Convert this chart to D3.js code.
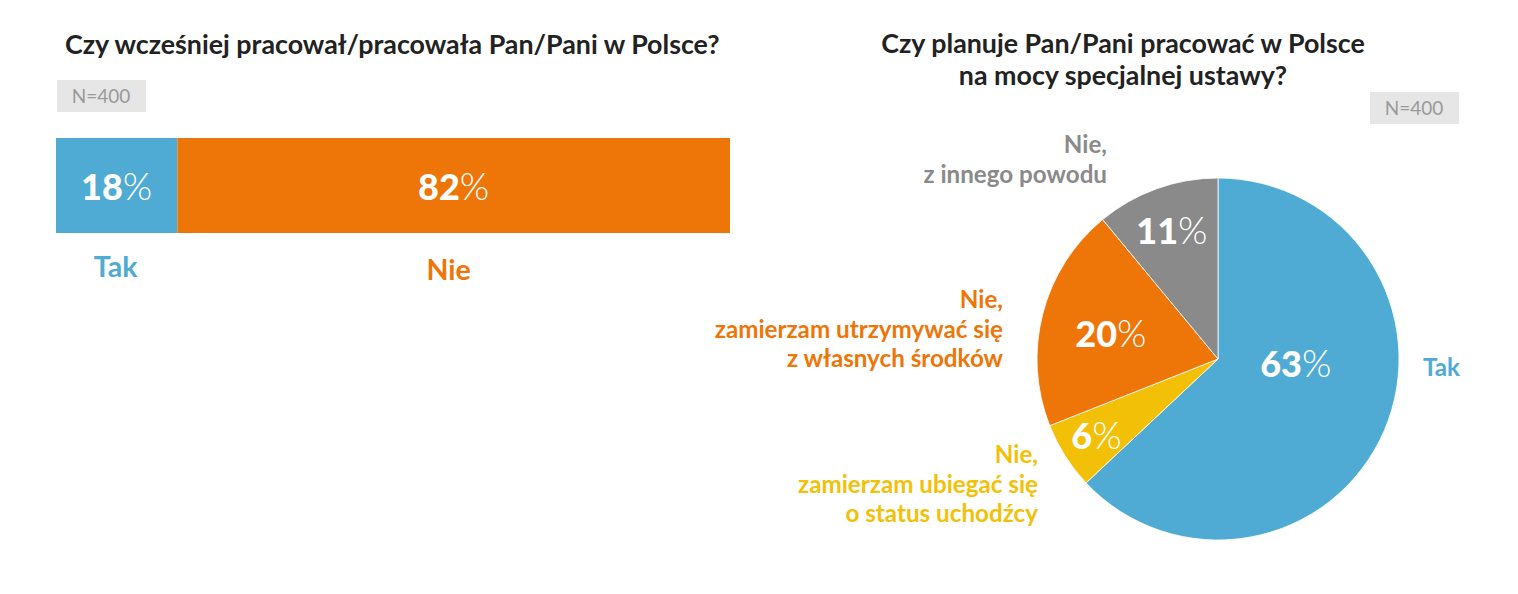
<!DOCTYPE html>
<html>
<head>
<meta charset="utf-8">
<script src="https://cdn.jsdelivr.net/npm/d3@7"></script>
<style>
  body { margin: 0; background: #fff; }
  text { font-family: Lato, "Open Sans", sans-serif; }
</style>
</head>
<body>
<div id="chart"></div>
<script>
// Data
const barTitle = "Czy wcześniej pracował/pracowała Pan/Pani w Polsce?";
const barCategories = ["Tak", "Nie"];
const barValues = [18, 82];

const pieTitle = ["Czy planuje Pan/Pani pracować w Polsce", "na mocy specjalnej ustawy?"];
const pieCategories = ["Tak", "Nie, zamierzam ubiegać się o status uchodźcy", "Nie, zamierzam utrzymywać się z własnych środków", "Nie, z innego powodu"];
const pieLabelLines = [
  ["Tak"],
  ["Nie,", "zamierzam ubiegać się", "o status uchodźcy"],
  ["Nie,", "zamierzam utrzymywać się", "z własnych środków"],
  ["Nie,", "z innego powodu"]
];
const pieValues = [63, 6, 20, 11];
const sampleLabel = "N=400";

const colors = { blue: "#4FABD3", orange: "#EE7507", grey: "#8A8A8A", yellow: "#F3C008" };
const barColors = [colors.blue, colors.orange];
const pieColors = [colors.blue, colors.yellow, colors.orange, colors.grey];

const W = 1518, H = 594;
const svg = d3.select("#chart").append("svg")
    .attr("width", W)
    .attr("height", H);

// percentage label: bold digits + light % sign
function pctLabel(sel, v, size) {
  sel.append("tspan").attr("font-weight", 900).text(v);
  sel.append("tspan").attr("font-weight", 300).attr("font-size", size * 1.05).text("%");
  sel.attr("font-size", size).attr("fill", "#fff").attr("text-anchor", "middle");
}

function sampleBox(g, x, y) {
  g.append("rect").attr("x", x).attr("y", y).attr("width", 89).attr("height", 32).attr("fill", "#E6E6E6");
  g.append("text").attr("x", x + 44).attr("y", y + 23).attr("text-anchor", "middle")
    .attr("font-size", 19).attr("fill", "#9A9A9A").text(sampleLabel);
}

// ---------- Left: stacked bar ----------
const left = svg.append("g");
left.append("text")
  .attr("x", 65).attr("y", 54)
  .attr("font-size", 26.8).attr("font-weight", 700).attr("fill", "#222")
  .text(barTitle);
sampleBox(left, 57, 80);

const x = d3.scaleLinear().domain([0, d3.sum(barValues)]).range([56, 730]);
const stack = barValues.map((v, i) => ({ v, c: barCategories[i], start: d3.sum(barValues.slice(0, i)) }));

const segs = left.selectAll(".seg").data(stack).join("g");
segs.append("rect")
  .attr("x", d => x(d.start))
  .attr("y", 138)
  .attr("width", d => x(d.start + d.v) - x(d.start))
  .attr("height", 95)
  .attr("fill", (d, i) => barColors[i]);
segs.append("text")
  .attr("x", d => (x(d.start) + x(d.start + d.v)) / 2)
  .attr("y", 200)
  .each(function (d) { pctLabel(d3.select(this), d.v, 36); });
segs.append("text")
  .attr("x", (d, i) => (x(d.start) + x(d.start + d.v)) / 2 - (i ? 5 : 1))
  .attr("y", (d, i) => i ? 280 : 277)
  .attr("text-anchor", "middle")
  .attr("font-size", 28.5).attr("font-weight", 700)
  .attr("fill", (d, i) => barColors[i])
  .text(d => d.c);

// ---------- Right: pie ----------
const right = svg.append("g");
right.selectAll(".pt").data(pieTitle).join("text")
  .attr("x", 1123).attr("y", (d, i) => 53 + i * 32)
  .attr("text-anchor", "middle")
  .attr("font-size", 26.8).attr("font-weight", 700).attr("fill", "#222")
  .text(d => d);
sampleBox(right, 1370, 92);

const cx = 1218, cy = 359, r = 181;
const pie = d3.pie().sort(null).value(d => d)(pieValues);
const arc = d3.arc().innerRadius(0).outerRadius(r);
const pg = right.append("g").attr("transform", `translate(${cx},${cy})`);

pg.selectAll("path").data(pie).join("path")
  .attr("d", arc)
  .attr("fill", (d, i) => pieColors[i])
  .attr("stroke", "#fff").attr("stroke-width", 0.8);

// label placement inside slices: [radius, angle shift (rad)]
const inside = [[78, -0.34], [144, 0], [110, -0.02], [136, 0]];
pg.selectAll(".pl").data(pie).join("text")
  .attr("x", (d, i) => Math.sin((d.startAngle + d.endAngle) / 2 + inside[i][1]) * inside[i][0])
  .attr("y", (d, i) => -Math.cos((d.startAngle + d.endAngle) / 2 + inside[i][1]) * inside[i][0] + 13)
  .each(function (d) { pctLabel(d3.select(this), d.data, 36); });

// outer category labels: anchor point [x, y of first baseline, anchor]
const outside = [[1423, 376, "start"], [1038, 463, "end"], [1003, 308, "end"], [1107, 153, "end"]];
pieLabelLines.forEach((lines, i) => {
  const t = right.append("text")
    .attr("x", outside[i][0]).attr("y", outside[i][1])
    .attr("text-anchor", outside[i][2])
    .attr("font-size", 24.2).attr("font-weight", 700)
    .attr("fill", pieColors[i]);
  t.selectAll("tspan").data(lines).join("tspan")
    .attr("x", outside[i][0])
    .attr("dy", (d, j) => j ? 29.5 : 0)
    .text(d => d);
});
</script>
</body>
</html>
